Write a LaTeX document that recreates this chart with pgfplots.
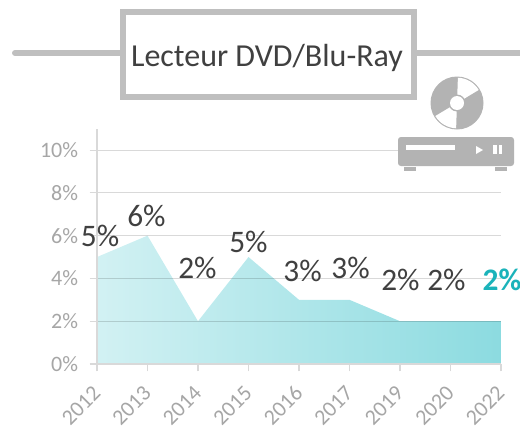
\documentclass[border=0pt]{standalone}
\usepackage{pgfplots}
\pgfplotsset{compat=1.18}
\usepackage{fontspec}
\setmainfont{Carlito}
\definecolor{frame}{HTML}{BFBFBF}
\definecolor{ico}{HTML}{B3B3B3}
\definecolor{axisc}{HTML}{D9D9D9}
\definecolor{tickc}{HTML}{A6A6A6}
\definecolor{lab}{HTML}{404040}
\definecolor{teal1}{HTML}{D2F1F3}
\definecolor{teal2}{HTML}{8CDBE0}
\definecolor{teal3}{HTML}{1BB3BA}
\begin{document}
\begin{tikzpicture}
\useasboundingbox (0,0) rectangle (390pt,322.5pt);
\begin{axis}[
  at={(72.75pt,49.5pt)}, anchor=origin, scale only axis,
  width=303pt, height=176.5pt,
  xmin=0, xmax=8, ymin=0, ymax=11,
  axis lines=left, axis line style={draw=axisc, line width=1.1pt, -},
  xtick={0,...,8},
  xticklabels={2012,2013,2014,2015,2016,2017,2019,2020,2022},
  ytick={0,2,4,6,8,10},
  yticklabels={0\%,2\%,4\%,6\%,8\%,10\%},
  tick style={draw=axisc, line width=0.8pt},
  tick align=outside, major tick length=5.5pt,
  ymajorgrids, major grid style={draw=black, opacity=0.15, line width=0.8pt},
  axis on top,
  ticklabel style={text=tickc, font=\fontsize{16.5}{16.5}\selectfont},
  x tick label style={xshift=0pt, yshift=-13.5pt, rotate=45, anchor=east, inner sep=0pt},
  y tick label style={inner sep=2pt, xshift=-6.5pt},
  clip=false,
]
\addplot[draw=none, left color=teal1, right color=teal2] coordinates {
 (0,5) (1,6) (2,2) (3,5) (4,3) (5,3) (6,2) (7,2) (8,2)} \closedcycle;
\addplot[only marks, mark=none, nodes near coords, point meta=explicit symbolic,
  nodes near coords style={anchor=center, inner sep=0pt, text=lab, font=\fontsize{23.5}{23.5}\selectfont}]
  table[meta=l, row sep=\\] {
  x y l\\
  0.06 5.98 5\%\\
  0.98 6.92 6\%\\
  1.99 4.49 2\%\\
  3.00 5.72 5\%\\
  4.07 4.35 3\%\\
  5.02 4.49 3\%\\
  6.01 3.93 2\%\\
  6.92 3.93 2\%\\
};
\addplot[only marks, mark=none, nodes near coords, point meta=explicit symbolic,
  nodes near coords style={anchor=center, inner sep=0pt, text=teal3, font=\bfseries\fontsize{23.5}{23.5}\selectfont}]
  table[meta=l, row sep=\\] {
  x y l\\
  8.02 3.93 2\%\\
};
\end{axis}
\begin{scope}[x=0.75pt,y=-0.75pt,shift={(0,322.5pt)}]
  % title
  \draw[frame, line width=4.5pt, line cap=round] (15,53) -- (120,53);
  \draw[frame, line width=4.5pt] (416,53) -- (522,53);
  \draw[frame, line width=4.5pt, fill=white] (122.5,11.5) rectangle (413.5,97);
  \node[text=lab, font=\fontsize{24}{24}\selectfont, anchor=center] at (267,58) {Lecteur DVD/Blu-Ray};
  % disc
  \begin{scope}[shift={(457,103)},yscale=-1]
    \fill[ico] (0,0) circle (26.5);
    \fill[white] (0,0) -- (88:25.3) arc (88:31:25.3) -- cycle;
    \fill[white] (0,0) -- (268:25.3) arc (268:211:25.3) -- cycle;
    \fill[ico] (0,0) circle (8.5);
    \fill[white] (0,0) circle (7);
  \end{scope}
  % player
  \fill[ico, rounded corners=2.2pt] (398,137) rectangle (514,166);
  \fill[white] (406,145) rectangle (455,150);
  \fill[white] (476,146) -- (483,150) -- (476,154) -- cycle;
  \fill[white] (493,145) rectangle (497,154);
  \fill[white] (499,145) rectangle (502,154);
  \fill[ico] (404,166.5) rectangle (416,171);
  \fill[ico] (495,166.5) rectangle (507,171);
\end{scope}
\end{tikzpicture}
\end{document}
